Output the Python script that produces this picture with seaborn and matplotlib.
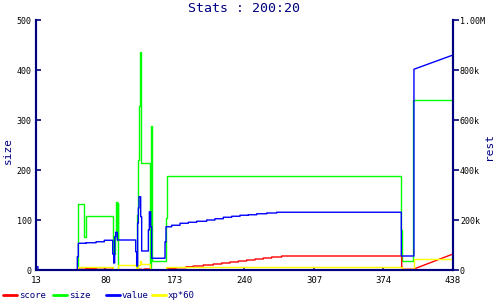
import matplotlib
matplotlib.use("Agg")
import matplotlib.pyplot as plt
from matplotlib.lines import Line2D
import seaborn as sns

# ---------------- data ----------------
title = "Stats : 200:20"
x_tick_labels = ["13", "80", "173", "240", "307", "374", "438"]
x_min, x_max = 13, 438

left_ticks = [0, 100, 200, 300, 400, 500]
right_ticks = [0, 200000, 400000, 600000, 800000, 1000000]
right_tick_labels = ["0", "200k", "400k", "600k", "800k", "1.00M"]

# size (left axis), step changes
size_x = [13, 55.3, 56.3, 62.4, 64.0, 91.0, 93.5, 94.5, 95.6, 96.1, 96.9,
          115.9, 117.0, 118.0, 119.0, 119.8, 120.3, 128.7, 129.7, 130.2,
          130.9, 131.5, 145.5, 146.2, 385.3, 386.0, 397.7, 438]
size_y = [0, 66, 132, 66, 108, 32, 68, 136, 60, 134, 0,
          110, 220, 328, 436, 328, 214, 0, 144, 288,
          152, 19, 104, 189, 80, 19, 341, 341]

# value (right axis, thousands), step changes then a final ramp
value_x = [13, 15.0, 55.1, 56.1, 64.0, 74.2, 82.6, 91.2, 92.2, 93.2, 94.2,
           95.9, 114.6, 115.6, 116.6, 117.3, 118.0, 119.7, 120.7, 127.5,
           128.5, 129.9, 130.9, 144.5, 145.5, 151.3, 159.8, 168.2, 176.8,
           187.0, 195.4, 203.9, 212.5, 220.9, 229.4, 237.9, 248.1, 258.3,
           385.3, 398.2]
value_y = [13, 0, 53, 107, 109, 113, 119, 64, 28, 133, 151,
           120, 73, 16, 188, 248, 293, 213, 76, 160,
           233, 173, 47, 113, 173, 179, 187, 191, 195,
           200, 205, 211, 215, 219, 221, 225, 228, 231,
           56, 803]
value_end = (438, 860)

# score (right axis, thousands)
score_x = [13, 56.1, 64.0, 74.2, 91.2, 115.6, 120.7, 123.1, 129.9,
           146.8, 155.7, 165.9, 173.3, 183.5, 193.7, 202.3, 210.7, 219.2,
           227.7, 236.2, 244.7, 253.2, 263.4, 385.7, 386.4, 397.5]
score_y = [0, 3, 6, 9, 0, 3, 0, 4, 0,
           5, 9, 13, 16, 20, 24, 28, 32, 36,
           40, 44, 48, 52, 56, 11, 3, 3]
score_end = (438, 64)

# xp*60 (right axis, thousands)
xp_x = [13, 55.3, 91.0, 96.3, 114.6, 117.3, 119.0, 120.3, 129.2, 144.5,
        145.5, 386.0, 398.5, 438]
xp_y = [2, 11, 0, 20, 7, 20, 36, 24, 2, 0,
        11, 3, 43, 43]


def step_vertices(xs, ys, end=None):
    vx, vy = [xs[0]], [ys[0]]
    for i in range(1, len(xs)):
        vx += [xs[i], xs[i]]
        vy += [ys[i - 1], ys[i]]
    if end is not None:
        vx.append(end[0])
        vy.append(end[1])
    return vx, vy


NAVY = "#000080"
sns.set_theme(style="white")
plt.rcParams["font.family"] = ["DejaVu Sans Mono", "DejaVu Sans"]

fig = plt.figure(figsize=(5, 3), dpi=100)
ax = fig.add_axes([36 / 500, 30 / 300, 417 / 500, 250 / 300])
ax2 = ax.twinx()

lw = 1.0
vx, vy = step_vertices(size_x, size_y)
sns.lineplot(x=vx, y=vy, ax=ax, color="#00ff00", sort=False, estimator=None,
             linewidth=lw)

vx, vy = step_vertices(score_x, [v * 1000 for v in score_y],
                       (score_end[0], score_end[1] * 1000))
sns.lineplot(x=vx, y=vy, ax=ax2, color="#ff0000", sort=False, estimator=None,
             linewidth=lw)
vx, vy = step_vertices(xp_x, [v * 1000 for v in xp_y])
sns.lineplot(x=vx, y=vy, ax=ax2, color="#ffff00", sort=False, estimator=None,
             linewidth=lw)
vx, vy = step_vertices(value_x, [v * 1000 for v in value_y],
                       (value_end[0], value_end[1] * 1000))
sns.lineplot(x=vx, y=vy, ax=ax2, color="#0000ff", sort=False, estimator=None,
             linewidth=lw)

ax.set_xlim(x_min, x_max)
ax.set_ylim(0, 500)
ax2.set_ylim(0, 1000000)

xt = [x_min + i * (x_max - x_min) / 6 for i in range(7)]
ax.set_xticks(xt)
ax.set_xticklabels(x_tick_labels)
ax.set_yticks(left_ticks)
ax.set_yticklabels([str(v) for v in left_ticks])
ax2.set_yticks(right_ticks)
ax2.set_yticklabels(right_tick_labels)

for a in (ax, ax2):
    a.grid(False)
    a.set_facecolor("none")
    for s in a.spines.values():
        s.set_color(NAVY)
        s.set_linewidth(1.5)
    a.spines["top"].set_visible(False)
    a.set_ylabel("")
ax.set_xlabel("")

ax.tick_params(axis="y", direction="in", length=3.5, width=1.2, color=NAVY,
               labelsize=6, labelcolor="black", pad=3, left=True)
ax.tick_params(axis="x", direction="in", length=2.5, width=1.2, color=NAVY,
               labelsize=6.5, labelcolor="black", pad=4, bottom=True)
ax2.tick_params(axis="y", direction="out", length=4, width=1.2, color=NAVY,
                labelsize=6, labelcolor="black", pad=1, right=True)

fig.text(8 / 500, 1 - 150 / 300, "size", color=NAVY, fontsize=8,
         rotation=90, ha="center", va="center")
fig.text(489 / 500, 1 - 146 / 300, "rest", color=NAVY, fontsize=8,
         rotation=90, ha="center", va="center")

fig.text(243.5 / 500, 1 - 9 / 300, title, color=NAVY, fontsize=9.5,
         ha="center", va="center")

# legend
legend_items = [("score", "#ff0000", 3), ("size", "#00ff00", 53),
                ("value", "#0000ff", 106), ("xp*60", "#ffff00", 152)]
ly = 1 - 295 / 300
for name, col, x0 in legend_items:
    fig.add_artist(Line2D([x0 / 500, (x0 + 14) / 500], [ly, ly], color=col,
                          linewidth=2, transform=fig.transFigure))
    fig.text((x0 + 16) / 500, ly, name, color=NAVY, fontsize=6.5,
             ha="left", va="center")

fig.savefig("out.png", dpi=100)
